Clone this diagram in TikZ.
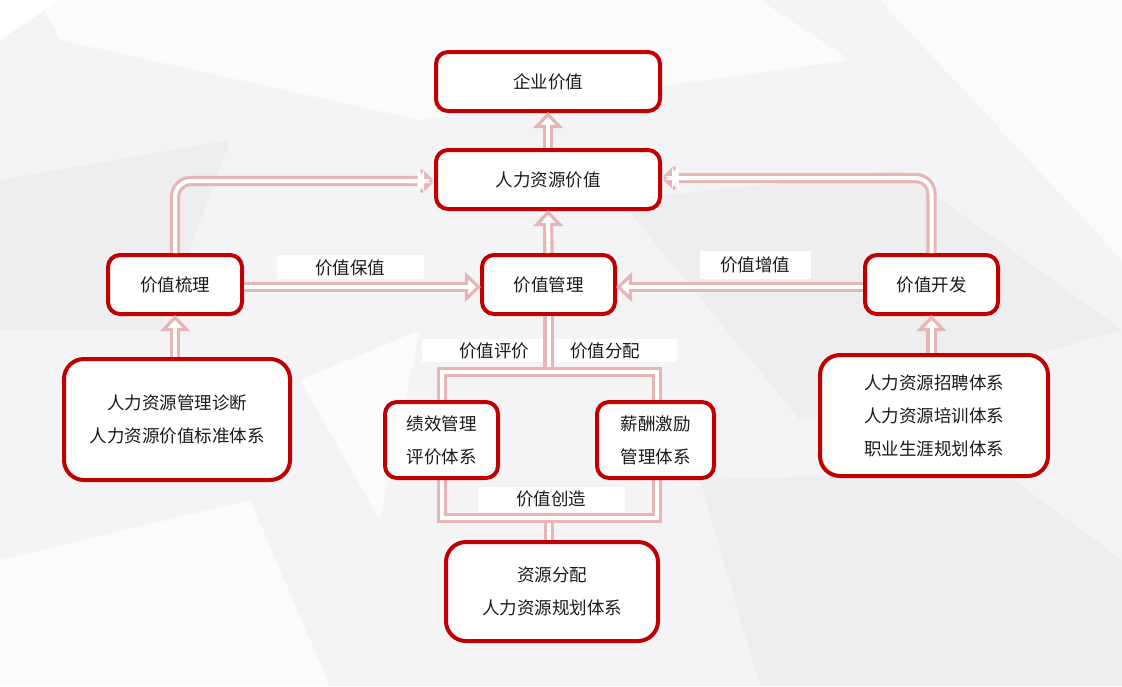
\documentclass[tikz,border=0pt]{standalone}
\usepackage{fontspec}
\setmainfont{Noto Sans CJK SC}
\usetikzlibrary{decorations.markings}
\definecolor{boxred}{HTML}{C00000}
\definecolor{apink}{HTML}{E6B6B6}
\definecolor{txt}{HTML}{1A1A1A}
\definecolor{bgA}{HTML}{F4F4F6}
\definecolor{bgB}{HTML}{EEEEF0}
\definecolor{bgC}{HTML}{FBFBFC}
\tikzset{
  box/.style={draw=boxred, line width=4, rounded corners=12, fill=white, align=center,
    font=\fontsize{17.5}{33}\selectfont, text=txt, inner sep=0},
  bigbox/.style={box, rounded corners=20},
  dbl/.style={draw=apink, line width=3.2, double=white, double distance=4},
  tipped/.style={dbl, shorten >=8, postaction={decorate, decoration={markings,
    mark=at position 1 with {\draw[apink, line width=3.2, fill=white, line join=miter]
      (-1.5,0) -- (-13.5,11.5) -- (-13.5,-11.5) -- cycle; \fill[white] (-16.5,-2) rectangle (-10,2);}}}},
  lbl/.style={font=\fontsize{17.5}{20}\selectfont, text=txt, inner sep=0},
}
\begin{document}
\begin{tikzpicture}[x=1pt,y=-1pt]
\useasboundingbox (0,0) rectangle (1122,686);
% background
\fill[bgA] (0,0) rectangle (1122,686);
\fill[bgC] (40,0) -- (760,0) -- (850,60) -- (420,120) -- (60,40) -- cycle;
\fill[white] (0,0) -- (60,0) -- (0,40) -- cycle;
\fill[bgB] (0,180) -- (230,140) -- (160,330) -- (0,330) -- cycle;
\fill[bgC] (880,0) -- (1122,0) -- (1122,260) -- cycle;
\fill[bgB] (620,200) -- (900,170) -- (1122,330) -- (800,420) -- cycle;
\fill[bgC] (0,560) -- (250,500) -- (330,686) -- (0,686) -- cycle;
\fill[bgB] (700,480) -- (1000,470) -- (1122,560) -- (1122,686) -- (760,686) -- cycle;
\fill[bgC] (300,380) -- (420,330) -- (380,520) -- cycle;
% main nodes
\node[box, minimum width=224, minimum height=59] (ev) at (548,81.5) {企业价值};
\node[box, minimum width=224, minimum height=59] (hrv) at (548,179.5) {人力资源价值};
\node[box, minimum width=134, minimum height=59] (lsort) at (175,284.5) {价值梳理};
\node[box, minimum width=133, minimum height=59] (vm) at (548.5,284.5) {价值管理};
\node[box, minimum width=133, minimum height=59] (vd) at (931.5,284.5) {价值开发};
\node[bigbox, minimum width=226, minimum height=121] (lb) at (177,419.5) {人力资源管理诊断\\人力资源价值标准体系};
\node[bigbox, minimum width=228, minimum height=121] (rb) at (934,415.5) {人力资源招聘体系\\人力资源培训体系\\职业生涯规划体系};
\node[bigbox, minimum width=212, minimum height=99] (zy) at (552,591.5) {资源分配\\人力资源规划体系};
% frame
\coordinate (ftop) at (548.5,367);
\coordinate (fbot) at (549,523);
\draw[dbl] (442,372) rectangle (657,518);
\draw[dbl] (vm.south) -- (vm.south |- ftop);
\draw[dbl] (fbot) -- (fbot |- zy.north);
\node[box, minimum width=113, minimum height=76] (jx) at (441.5,440) {绩效管理\\评价体系};
\node[box, minimum width=117, minimum height=76] (xc) at (655.5,440) {薪酬激励\\管理体系};
% connectors
\draw[tipped] (hrv) -- (ev);
\draw[tipped] (vm) -- (hrv);
\draw[tipped, rounded corners=16] (lsort.north) |- ([yshift=-1.5]hrv.west);
\draw[tipped, rounded corners=16] (vd.north) |- ([yshift=1.5]hrv.east);
\draw[tipped] ([yshift=-2.5]lsort.east) -- ([yshift=-2.5]vm.west);
\draw[tipped] ([yshift=-2.5]vd.west) -- ([yshift=-2.5]vm.east);
\draw[tipped] (lsort.south |- lb.north) -- (lsort.south);
\draw[tipped] (vd.south |- rb.north) -- (vd.south);
% labels
\fill[white] (277,255) rectangle (424,279);
\node[lbl] (l1) at (350,268) {价值保值};
\fill[white] (700,251) rectangle (811,279);
\node[lbl] (l2) at (755,265) {价值增值};
\fill[white] (422,339) rectangle (543,362);
\node[lbl] (l3) at (494,351) {价值评价};
\fill[white] (555,339) rectangle (677,362);
\node[lbl] (l4) at (605,351) {价值分配};
\fill[white] (478,487) rectangle (625,512);
\node[lbl] (l5) at (551,499) {价值创造};
\end{tikzpicture}
\end{document}
